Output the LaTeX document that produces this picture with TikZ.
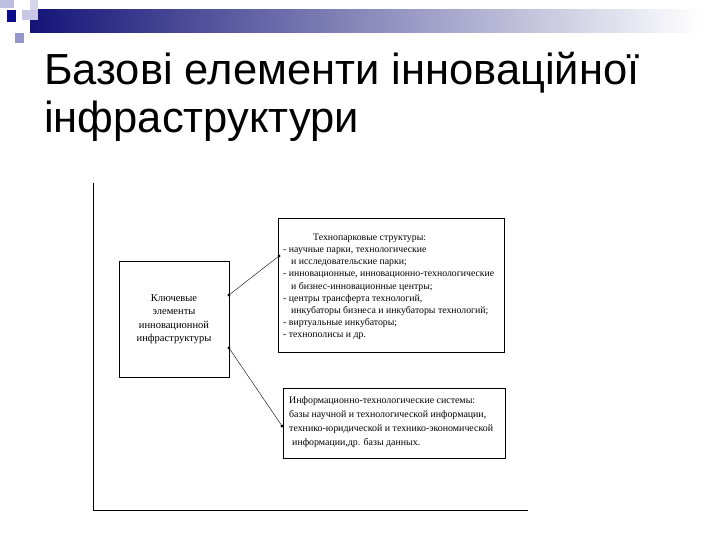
\documentclass[tikz,border=0pt]{standalone}
\usepackage{fontspec}
\setmainfont{Liberation Sans}
\newfontfamily\serifcyr{Liberation Serif}
\definecolor{dkblue}{RGB}{20,20,120}
\definecolor{sqA}{RGB}{190,190,225}
\definecolor{sqB}{RGB}{215,215,235}
\definecolor{sqC}{RGB}{10,10,140}
\definecolor{sqD}{RGB}{200,200,230}
\definecolor{sqE}{RGB}{150,150,200}
\begin{document}
\begin{tikzpicture}[x=1pt,y=-1pt,
  box/.style={draw,line width=0.8pt},
  small/.style={font=\serifcyr\fontsize{9.8}{12.1}\selectfont},
  dot/.style={circle,fill,inner sep=1.2pt}]
\useasboundingbox (0,0) rectangle (720,540);
\fill[white] (0,0) rectangle (720,540);
% decoration
\shade[left color=dkblue, right color=white] (30,10) rectangle (700,33);
\fill[sqA] (0,0) rectangle (14,8);
\fill[sqB] (30,0) rectangle (38,20);
\fill[sqD] (22,10) rectangle (38,20);
\fill[sqC] (7,10) rectangle (16,22);
\fill[sqE] (15,33) rectangle (24,43);
% title
\node[anchor=base west,inner sep=0,font=\fontsize{43.5}{50}\selectfont] (t1) at (44,85) {Базові елементи інноваційної};
\node[anchor=base west,inner sep=0,font=\fontsize{43.5}{50}\selectfont] (t2) at (44,133) {інфраструктури};
% axes
\coordinate (ax1) at (93,183);
\coordinate (ax0) at (93,510);
\coordinate (ax2) at (528,510);
\draw[line width=0.8pt] (ax1) -- (ax0) -- (ax2);
% boxes
\draw[box] (119,261) rectangle (229,377);
\node[align=center,font=\serifcyr\fontsize{10.5}{13.5}\selectfont] (k) at (174,319) {Ключевые\\элементы\\инновационной\\инфраструктуры};
\draw[box] (278,218) rectangle (504,352);
\node[small,anchor=north west,align=left,inner sep=0] (tp) at (283,234) {\hspace*{30pt}Технопарковые структуры:\\
- научные парки, технологические\\
\hspace*{8pt}и исследовательские парки;\\
- инновационные, инновационно-технологические\\
\hspace*{8pt}и бизнес-инновационные центры;\\
- центры трансферта технологий,\\
\hspace*{8pt}инкубаторы бизнеса и инкубаторы технологий;\\
- виртуальные инкубаторы;\\
- технополисы и др.};
\draw[box] (283,388) rectangle (505,458);
\node[anchor=north west,align=left,inner sep=0,font=\serifcyr\fontsize{9.9}{14}\selectfont] (it) at (289,396) {Информационно-технологические системы:\\
базы научной и технологической информации,\\
технико-юридической и технико-экономической\\
\hspace*{3pt}информации,др. базы данных.};
% connectors
\node[dot] (d1) at (229,295) {};
\node[dot] (d2) at (279,256) {};
\node[dot] (d3) at (229,348) {};
\node[dot] (d4) at (282,426) {};
\draw (d1) -- (d2);
\draw (d3) -- (d4);
\end{tikzpicture}
\end{document}
